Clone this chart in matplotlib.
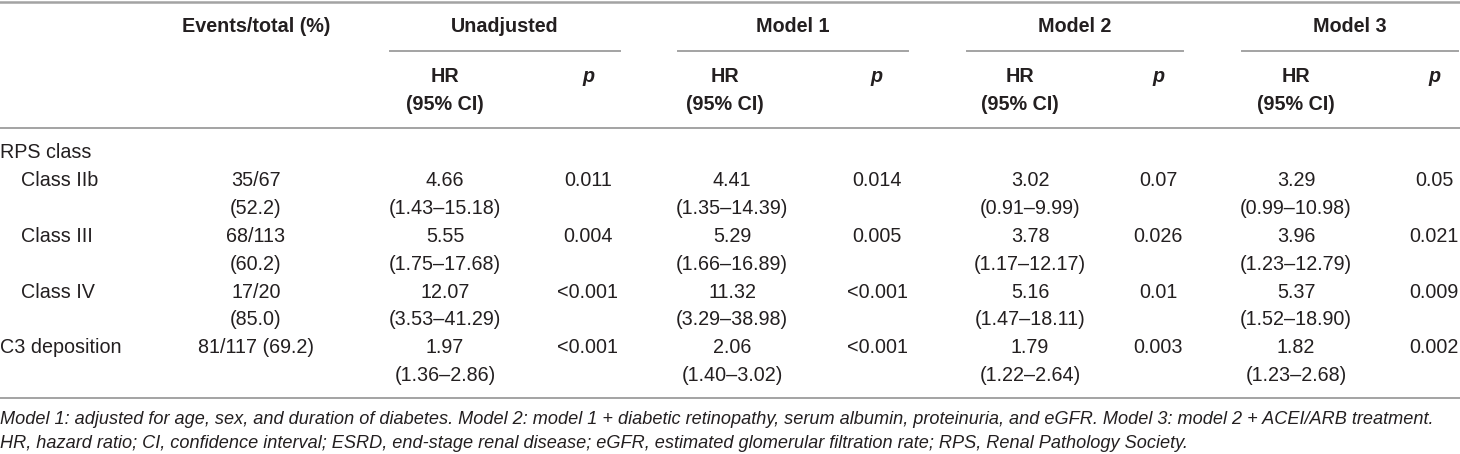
import matplotlib
matplotlib.use("Agg")
import matplotlib.pyplot as plt

plt.rcParams['font.family'] = ['Liberation Sans', 'DejaVu Sans']

# table data
groups = ["Unadjusted", "Model 1", "Model 2", "Model 3"]
row_labels = ["Class IIb", "Class III", "Class IV", "C3 deposition"]
events_n = ["35/67", "68/113", "17/20", "81/117"]
events_pct = ["52.2", "60.2", "85.0", "69.2"]

hr_unadj = [4.66, 5.55, 12.07, 1.97]
lo_unadj = [1.43, 1.75, 3.53, 1.36]
hi_unadj = [15.18, 17.68, 41.29, 2.86]
p_unadj = ["0.011", "0.004", "<0.001", "<0.001"]

hr_m1 = [4.41, 5.29, 11.32, 2.06]
lo_m1 = [1.35, 1.66, 3.29, 1.40]
hi_m1 = [14.39, 16.89, 38.98, 3.02]
p_m1 = ["0.014", "0.005", "<0.001", "<0.001"]

hr_m2 = [3.02, 3.78, 5.16, 1.79]
lo_m2 = [0.91, 1.17, 1.47, 1.22]
hi_m2 = [9.99, 12.17, 18.11, 2.64]
p_m2 = ["0.07", "0.026", "0.01", "0.003"]

hr_m3 = [3.29, 3.96, 5.37, 1.82]
lo_m3 = [0.99, 1.23, 1.52, 1.23]
hi_m3 = [10.98, 12.79, 18.90, 2.68]
p_m3 = ["0.05", "0.021", "0.009", "0.002"]

footnote = ["Model 1: adjusted for age, sex, and duration of diabetes. Model 2: model 1 + diabetic retinopathy, "
            "serum albumin, proteinuria, and eGFR. Model 3: model 2 + ACEI/ARB treatment.",
            "HR, hazard ratio; CI, confidence interval; ESRD, end-stage renal disease; eGFR, estimated "
            "glomerular filtration rate; RPS, Renal Pathology Society."]

models = [(hr_unadj, lo_unadj, hi_unadj, p_unadj),
          (hr_m1, lo_m1, hi_m1, p_m1),
          (hr_m2, lo_m2, hi_m2, p_m2),
          (hr_m3, lo_m3, hi_m3, p_m3)]

# layout (pixels)
W, H = 1460, 454
fs = 14.2
txt = '#231f20'
line_c = '#a3a3a3'
ev_x = 256
hr_x = [445, 732, 1030, 1296]
hr_head_x = [445, 725, 1020, 1296]
p_x = [588, 877, 1158, 1434]
grp_lines = [(390, 620), (678, 908), (967, 1183), (1242, 1458)]
row_step = 27.8
y0 = 153

fig = plt.figure(figsize=(W / 100, H / 100), dpi=100)
ax = fig.add_axes([0, 0, 1, 1])
ax.set_xlim(0, W)
ax.set_ylim(H, 0)
ax.axis('off')

# rules
ax.plot([0, W], [2, 2], color=line_c, lw=1.8)
ax.plot([0, W], [128, 128], color=line_c, lw=1.4)
ax.plot([0, W], [398, 398], color=line_c, lw=1.4)
for a, b in grp_lines:
    ax.plot([a, b], [51, 51], color=line_c, lw=1.4)

# header
ax.text(ev_x, 27, "Events/total (%)", ha='center', va='center', fontsize=fs, fontweight='bold', color=txt)
for i, g in enumerate(groups):
    gx = sum(grp_lines[i]) / 2
    ax.text(gx, 27, g, ha='center', va='center', fontsize=fs, fontweight='bold', color=txt)
    ax.text(hr_head_x[i], 77, "HR", ha='center', va='center', fontsize=fs, fontweight='bold', color=txt)
    ax.text(hr_head_x[i], 104, "(95% CI)", ha='center', va='center', fontsize=fs, fontweight='bold', color=txt)
    ax.text(p_x[i], 77, "p", ha='center', va='center', fontsize=fs, fontweight='bold',
            fontstyle='italic', color=txt)

# body
ax.text(0, y0, "RPS class", ha='left', va='center', fontsize=fs, color=txt)
for r, lab in enumerate(row_labels):
    ya = y0 + row_step * (1 + 2 * r)
    yb = ya + row_step
    indent = lab.startswith("Class")
    ax.text(21 if indent else 0, ya, lab, ha='left', va='center', fontsize=fs, color=txt)
    if indent:
        ax.text(ev_x, ya, events_n[r], ha='center', va='center', fontsize=fs, color=txt)
        ax.text(ev_x, yb, "(" + events_pct[r] + ")", ha='center', va='center', fontsize=fs, color=txt)
    else:
        ax.text(ev_x, ya, events_n[r] + " (" + events_pct[r] + ")", ha='center', va='center',
                fontsize=fs, color=txt)
    for i, (hr, lo, hi, p) in enumerate(models):
        ax.text(hr_x[i], ya, f"{hr[r]:.2f}", ha='center', va='center', fontsize=fs, color=txt)
        ax.text(hr_x[i], yb, f"({lo[r]:.2f}\u2013{hi[r]:.2f})", ha='center', va='center', fontsize=fs, color=txt)
        ax.text(p_x[i], ya, p[r], ha='center', va='center', fontsize=fs, color=txt)

# footnote
for k, line in enumerate(footnote):
    ax.text(0, 420 + 24 * k, line, ha='left', va='center', fontsize=13.1, fontstyle='italic', color=txt)

fig.savefig("out.png", dpi=100)
